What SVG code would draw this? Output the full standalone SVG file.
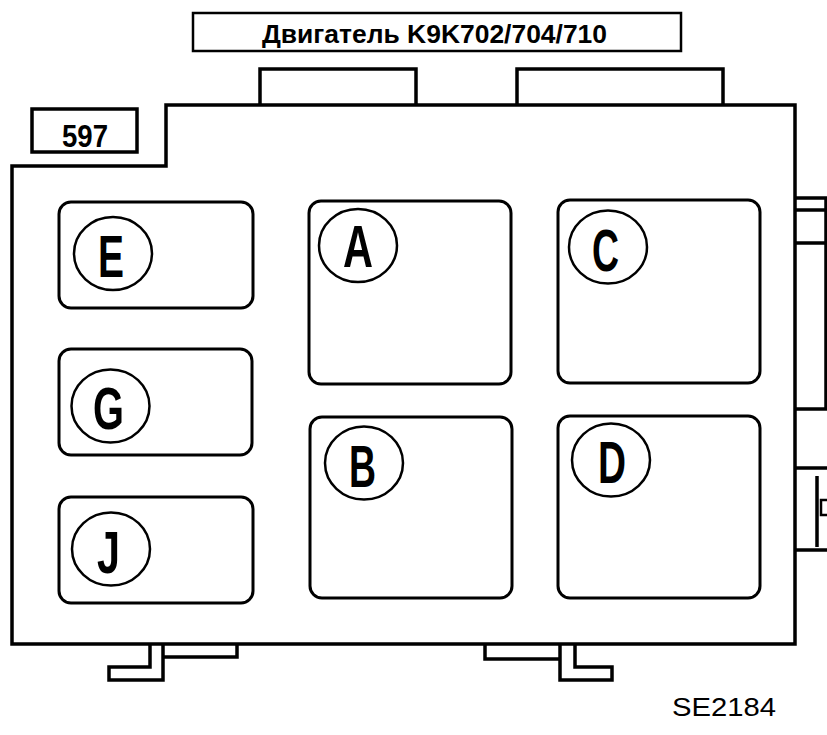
<svg xmlns="http://www.w3.org/2000/svg" width="827" height="735" viewBox="0 0 827 735">
<style>
.ln{fill:none;stroke:#000;stroke-width:3.5;stroke-linejoin:miter}
.bx{fill:none;stroke:#000;stroke-width:3}
.ci{fill:none;stroke:#000;stroke-width:2.5}
.lt{font-family:"Liberation Sans",Arial,sans-serif;font-weight:bold;font-size:59px;text-anchor:middle;fill:#000}
.tt{font-family:"Liberation Sans",Arial,sans-serif;font-weight:bold;fill:#000}
</style>
<rect width="827" height="735" fill="#fff"/>
<g id="title">
<rect x="193" y="13" width="488" height="38" fill="none" stroke="#000" stroke-width="2.5"/>
<text class="tt" x="262" y="43" font-size="25" textLength="345" lengthAdjust="spacingAndGlyphs">Двигатель K9K702/704/710</text>
</g>
<g id="body">
<path class="ln" d="M12,166 H166 V105 H795 V644 H12 Z"/>
<path class="ln" d="M260,105 V69 H416 V105"/>
<path class="ln" d="M517,105 V69 H723 V105"/>
<rect x="32" y="109" width="105" height="43" fill="none" stroke="#000" stroke-width="3.5"/>
<text class="tt" x="62" y="147" font-size="32" textLength="46" lengthAdjust="spacingAndGlyphs">597</text>
<path class="ln" d="M795,198 H826 V409 H795" stroke-width="2"/>
<path class="ln" d="M795,210 H826 M795,243 H826"/>
<path class="ln" d="M795,468 H827 M795,550 H827 M817,476 V547"/>
<rect x="821" y="500" width="8" height="15" fill="none" stroke="#000" stroke-width="2.5"/>
<path class="ln" d="M150,644 V667 H109 V680 H163 V644"/>
<path class="ln" d="M163,657 H237 V644"/>
<path class="ln" d="M575,644 V667 H612 V680 H560 V644"/>
<path class="ln" d="M560,659 H485 V644"/>
</g>
<g id="node-E">
<rect class="bx" x="59" y="202" width="194" height="106" rx="12"/>
<ellipse class="ci" cx="113" cy="253.5" rx="39" ry="36.5"/>
<text class="lt" x="111" y="277" textLength="26" lengthAdjust="spacingAndGlyphs">E</text>
</g>
<g id="node-G">
<rect class="bx" x="59" y="349" width="193" height="106" rx="12"/>
<ellipse class="ci" cx="110.5" cy="406" rx="39" ry="36.5"/>
<text class="lt" x="108.5" y="429" textLength="31" lengthAdjust="spacingAndGlyphs">G</text>
</g>
<g id="node-J">
<rect class="bx" x="59" y="497" width="194" height="106" rx="12"/>
<ellipse class="ci" cx="111" cy="549" rx="39" ry="36.5"/>
<text class="lt" x="108.5" y="573" textLength="23" lengthAdjust="spacingAndGlyphs">J</text>
</g>
<g id="node-A">
<rect class="bx" x="309" y="201" width="202" height="183" rx="12"/>
<ellipse class="ci" cx="358" cy="245.5" rx="39" ry="36.5"/>
<text class="lt" x="358" y="267" textLength="30" lengthAdjust="spacingAndGlyphs">A</text>
</g>
<g id="node-B">
<rect class="bx" x="310" y="417" width="202" height="181" rx="12"/>
<ellipse class="ci" cx="364" cy="463" rx="39" ry="36.5"/>
<text class="lt" x="362.5" y="487" textLength="27" lengthAdjust="spacingAndGlyphs">B</text>
</g>
<g id="node-C">
<rect class="bx" x="558" y="200" width="202" height="183" rx="12"/>
<ellipse class="ci" cx="608" cy="247" rx="39" ry="36.5"/>
<text class="lt" x="605.5" y="271" textLength="27" lengthAdjust="spacingAndGlyphs">C</text>
</g>
<g id="node-D">
<rect class="bx" x="558" y="416" width="202" height="182" rx="12"/>
<ellipse class="ci" cx="611" cy="460" rx="39" ry="36.5"/>
<text class="lt" x="612" y="483" textLength="28" lengthAdjust="spacingAndGlyphs">D</text>
</g>
<text x="672" y="716" font-family="'Liberation Sans',Arial,sans-serif" font-size="25" textLength="104" lengthAdjust="spacingAndGlyphs" fill="#000">SE2184</text>
</svg>
